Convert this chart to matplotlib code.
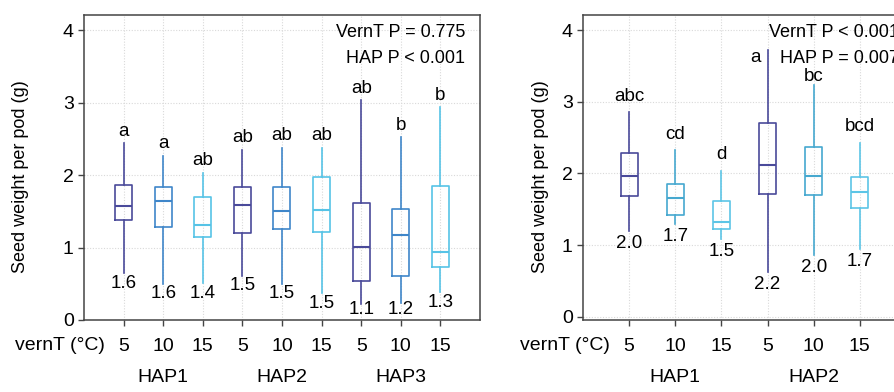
import matplotlib
matplotlib.use("Agg")
import matplotlib.pyplot as plt
from matplotlib.transforms import offset_copy

plt.rcParams["font.family"] = ["Liberation Sans", "DejaVu Sans"]
plt.rcParams["font.size"] = 13.5

# ---- data ----
vernt = ["5", "10", "15"]

left_haps = ["HAP1", "HAP2", "HAP3"]
left_whislo = [0.65, 0.50, 0.51, 0.61, 0.50, 0.37, 0.22, 0.24, 0.38]
left_q1 = [1.38, 1.28, 1.14, 1.20, 1.25, 1.21, 0.54, 0.61, 0.73]
left_med = [1.57, 1.64, 1.31, 1.59, 1.51, 1.52, 1.01, 1.17, 0.94]
left_q3 = [1.87, 1.83, 1.70, 1.84, 1.83, 1.97, 1.62, 1.53, 1.85]
left_whishi = [2.44, 2.27, 2.03, 2.35, 2.38, 2.38, 3.03, 2.52, 2.94]
left_means = [1.6, 1.6, 1.4, 1.5, 1.5, 1.5, 1.1, 1.2, 1.3]
left_letters = ["a", "a", "ab", "ab", "ab", "ab", "ab", "b", "b"]
left_pvals = ["VernT P = 0.775", "HAP P < 0.001"]

right_haps = ["HAP1", "HAP2"]
right_whislo = [1.20, 1.30, 1.09, 0.63, 0.86, 0.95]
right_q1 = [1.68, 1.42, 1.23, 1.71, 1.70, 1.51]
right_med = [1.96, 1.66, 1.32, 2.12, 1.97, 1.74]
right_q3 = [2.29, 1.85, 1.61, 2.70, 2.37, 1.95]
right_whishi = [2.85, 2.32, 2.04, 3.72, 3.24, 2.43]
right_means = [2.0, 1.7, 1.5, 2.2, 2.0, 1.7]
right_letters = ["abc", "cd", "d", "a", "bc", "bcd"]
right_pvals = ["VernT P < 0.001", "HAP P = 0.007"]

W, H = 895, 392
fig = plt.figure(figsize=(W / 100, H / 100), dpi=100)


def panel(rect, haps, lo, q1, med, q3, hi, means, letters, pvals,
          colors, ylo, ptx, letter_off, mean_off, mean_floor, nudge, ylab_x):
    ax = fig.add_axes([rect[0] / W, (H - rect[3]) / H,
                       (rect[2] - rect[0]) / W, (rect[3] - rect[1]) / H])
    n = len(lo)
    pos = list(range(1, n + 1))
    stats = [dict(whislo=lo[i], q1=q1[i], med=med[i], q3=q3[i],
                  whishi=hi[i], fliers=[]) for i in range(n)]
    px_unit = (rect[2] - rect[0]) / (n + 1)
    bp = ax.bxp(stats, positions=pos, widths=17 / px_unit, showcaps=False,
                showfliers=False, patch_artist=False, manage_ticks=False)
    for i in range(n):
        c = colors[i % 3]
        bp["boxes"][i].set(color=c, linewidth=1.2)
        bp["medians"][i].set(color=c, linewidth=1.5)
        for w in bp["whiskers"][2 * i:2 * i + 2]:
            w.set(color=c, linewidth=1.2)

    ax.set_xlim(0, n + 1)
    ax.set_ylim(ylo, 4.21)
    ax.set_xticks(pos)
    ax.set_xticklabels([vernt[i % 3] for i in range(n)])
    ax.set_yticks([0, 1, 2, 3, 4])
    ax.grid(True, color="#d9d9d9", linestyle=(0, (1, 1.5)), linewidth=0.8)
    ax.set_axisbelow(True)
    for s in ax.spines.values():
        s.set_color("#444444")
        s.set_linewidth(1.1)
    ax.tick_params(axis="x", length=4.3, width=1, color="#444444", pad=9,
                   labelsize=14)
    ax.tick_params(axis="y", length=4.3, width=1, color="#444444", pad=3,
                   labelsize=14)
    ax.set_ylabel("Seed weight per pod (g)", fontsize=13)
    ax.yaxis.set_label_coords(ylab_x, 0.47)

    for i in range(n):
        dx, dy = nudge.get(i, (0, letter_off))
        ax.annotate(letters[i], xy=(pos[i], hi[i]), xytext=(dx, dy),
                    textcoords="offset pixels", ha="center", va="center")
        my = max(lo[i] - mean_off, mean_floor)
        ax.text(pos[i], my, f"{means[i]:.1f}", ha="center", va="center")

    ax.text(ptx, 0.941, pvals[0], transform=ax.transAxes, ha="right",
            va="center", fontsize=13)
    ax.text(ptx, 0.856, pvals[1], transform=ax.transAxes, ha="right",
            va="center", fontsize=13)

    tr = offset_copy(ax.get_xaxis_transform(), fig=fig, x=-19, y=0,
                     units="dots")
    ax.text(1, -0.084, "vernT (\u00b0C)", transform=tr, ha="right",
            va="center", fontsize=14)
    for k, h in enumerate(haps):
        ax.text(3 * k + 2, -0.187, h, transform=ax.get_xaxis_transform(),
                ha="center", va="center", fontsize=14)
    return ax


panel((84, 15, 480, 320), left_haps, left_whislo, left_q1, left_med,
      left_q3, left_whishi, left_means, left_letters, left_pvals,
      ["#4a4a9a", "#3f86c9", "#56c3e6"], 0, 0.962, 12, 0.14, 0.15, {},
      -0.14)

panel((583, 15, 906, 320), right_haps, right_whislo, right_q1, right_med,
      right_q3, right_whishi, right_means, right_letters, right_pvals,
      ["#4a4a9a", "#46a8cf", "#5cc5e6"], -0.046, 0.978, 16, 0.18, 0.0,
      {3: (-12, -7), 4: (0, 8)}, -0.105)

fig.savefig("out.png", dpi=100)
